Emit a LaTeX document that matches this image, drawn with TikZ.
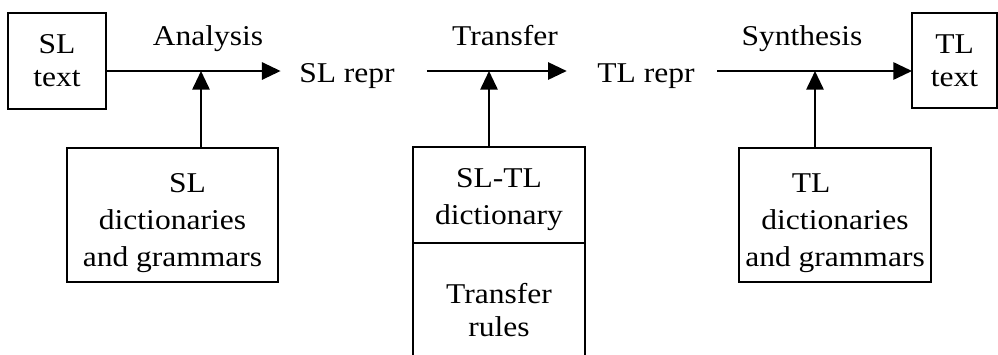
\documentclass[tikz,border=0pt]{standalone}
\usepackage{fontspec}
\setmainfont[FakeStretch=1.1]{Liberation Serif}
\usepackage{tikz}
\usetikzlibrary{positioning}
\usetikzlibrary{arrows.meta}

\tikzset{
    box/.style={draw, line width=1.4pt, align=center, inner sep=0pt, outer sep=0pt},
    txt/.style={font=\fontsize{21.5}{24.75}\selectfont},
    dict/.style={font=\fontsize{21.5}{27.75}\selectfont},
}

\begin{document}
\begin{tikzpicture}[x=0.75pt, y=-0.75pt, line width=1.4pt,
    >={Triangle[length=14pt, width=13pt]}]
    \useasboundingbox (0,0) rectangle (998,354);
    % main line
    \coordinate (axis) at (0,71);
    \node[box, txt, minimum width=73.5pt, minimum height=72pt] (sltext) at (57,61) {SL\\text};
    \node[txt, anchor=base] (slrepr) at (347,82) {SL repr};
    \node[txt, anchor=base] (tlrepr) at (646,82) {TL repr};
    \node[box, txt, minimum width=63.75pt, minimum height=71.25pt] (tltext) at (954.5,60.5) {TL\\text};
    \node[txt, anchor=base] (analysis) at (208,45) {Analysis};
    \node[txt, anchor=base] (transfer) at (505,45) {Transfer};
    \node[txt, anchor=base] (synthesis) at (802,45) {Synthesis};
    % resources
    \node[box, dict, minimum width=158.25pt, minimum height=100.5pt] (sldict) at (172.5,215)
        {\rule{0pt}{26pt}\hspace*{22.5pt}SL\\dictionaries\\and grammars};
    \node[box, dict, minimum width=129pt, minimum height=72pt] (sltldict) at (499,195)
        {\rule{0pt}{21pt}SL-TL\\dictionary};
    \node[txt, align=center, minimum width=129pt, minimum height=83.25pt] (rules) at (499,298.5)
        {\rule{0pt}{33pt}Transfer\\rules};
    \node[box, dict, minimum width=144pt, minimum height=100.5pt] (tldict) at (835,215)
        {\rule{0pt}{26pt}TL\hspace*{36pt}\\dictionaries\\and grammars};
    \draw (sltldict.south west) -- (sltldict.south west |- rules.south);
    \draw (sltldict.south east) -- (sltldict.south east |- rules.south);
    % arrows
    \coordinate (j1) at (201,71);
    \coordinate (j2) at (489,71);
    \coordinate (j3) at (815,71);
    \draw[->, shorten >=10pt] (sltext.east |- axis) -- (slrepr.west |- axis);
    \draw[->, shorten <=20pt, shorten >=19pt] (slrepr.east |- axis) -- (tlrepr.west |- axis);
    \draw[->, shorten <=13pt] (tlrepr.east |- axis) -- (tltext.west |- axis);
    \draw[->] (sldict.north -| j1) -- (j1);
    \draw[->] (sltldict.north -| j2) -- (j2);
    \draw[->] (tldict.north -| j3) -- (j3);
\end{tikzpicture}
\end{document}
